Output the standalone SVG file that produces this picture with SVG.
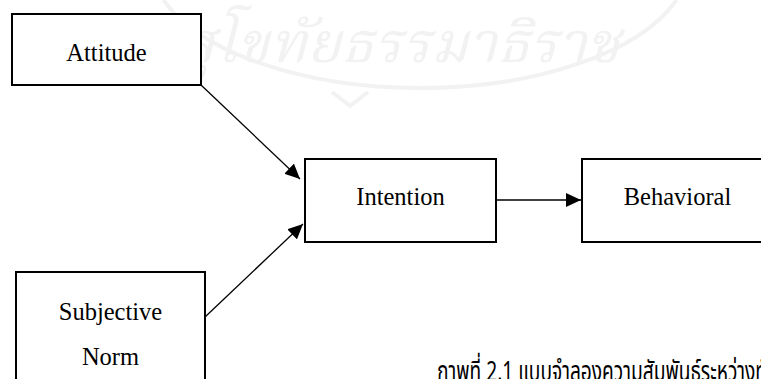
<svg xmlns="http://www.w3.org/2000/svg" width="761" height="379" viewBox="0 0 761 379">
  <style>
    .box { fill: #ffffff; stroke: #000000; stroke-width: 2; }
    .label { font-family: "Liberation Serif", "Times New Roman", serif; font-size: 24.5px; fill: #000000; text-anchor: middle; }
    .edge { fill: none; stroke: #000000; stroke-width: 1.3; }
    .caption { font-family: "Noto Sans Thai", "Noto Serif Thai", "Loma", "Garuda", "Liberation Serif", serif; font-size: 28px; fill: #000000; }
    .mark { fill: none; stroke: #f2f2f2; stroke-width: 4; }
    .mark-text { font-family: "Noto Serif Thai", "Noto Sans Thai", "Liberation Serif", serif; font-size: 56px; font-style: italic; fill: #f2f2f2; }
  </style>
  <defs>
    <marker id="arrow" viewBox="0 0 15 14" refX="15" refY="7" markerWidth="15" markerHeight="14" markerUnits="userSpaceOnUse" orient="auto">
      <path d="M0,0 L15,7 L0,14 Z" fill="#000000"/>
    </marker>
  </defs>

  <rect width="761" height="379" fill="#ffffff"/>

  <!-- faint background seal -->
  <g id="seal">
    <path class="mark" d="M163.5,0 A270,128 0 0 0 676.5,0"/>
    <path class="mark" d="M332,92 L350,106 L368,92" stroke-width="3"/>
    <text class="mark-text" x="400" y="62" text-anchor="middle" textLength="440" lengthAdjust="spacingAndGlyphs">สุโขทัยธรรมาธิราช</text>
  </g>

  <!-- connectors -->
  <g id="connectors">
    <line class="edge" x1="201" y1="85" x2="300" y2="179" marker-end="url(#arrow)"/>
    <line class="edge" x1="205" y1="317" x2="303" y2="224" marker-end="url(#arrow)"/>
    <line class="edge" x1="496" y1="200" x2="581" y2="200" marker-end="url(#arrow)"/>
  </g>

  <g id="attitude">
    <rect class="box" x="12" y="14" width="189" height="71"/>
    <text class="label" x="106.5" y="61">Attitude</text>
  </g>

  <g id="intention">
    <rect class="box" x="305" y="159" width="191" height="83"/>
    <text class="label" x="400.5" y="205">Intention</text>
  </g>

  <g id="behavioral">
    <rect class="box" x="582" y="159" width="191" height="83"/>
    <text class="label" x="677.5" y="205">Behavioral</text>
  </g>

  <g id="subjective-norm">
    <rect class="box" x="16" y="272" width="189" height="130"/>
    <text class="label" x="110.5" y="320">Subjective</text>
    <text class="label" x="110.5" y="365">Norm</text>
  </g>

  <text class="caption" x="437" y="381" textLength="330" lengthAdjust="spacingAndGlyphs">ภาพที่ 2.1 แบบจำลองความสัมพันธ์ระหว่างทั</text>
</svg>
